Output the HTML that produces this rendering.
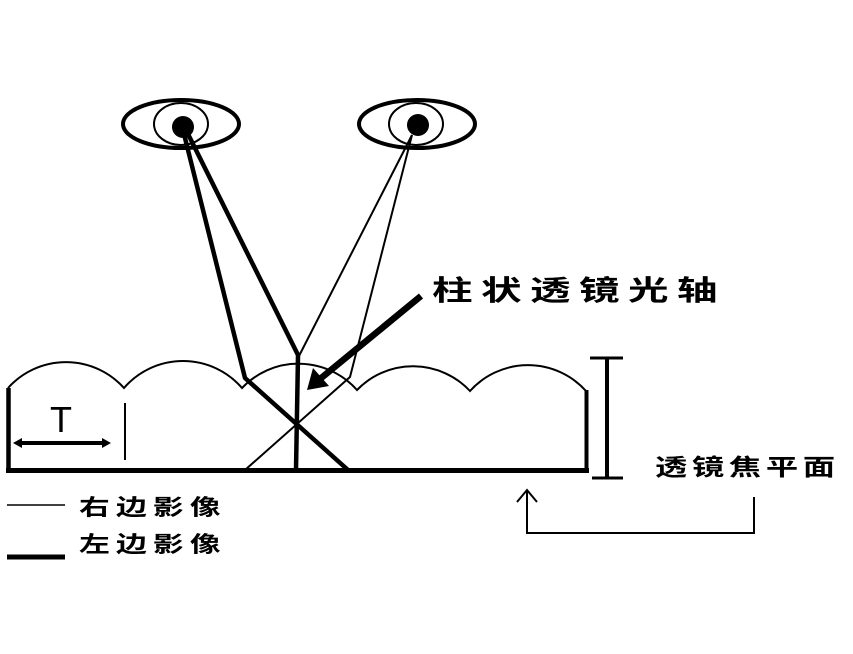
<!DOCTYPE html>
<html>
<head>
<meta charset="utf-8">
<style>
  html,body{margin:0;padding:0;background:#fff;}
  svg{display:block;}
  .cjk{font-family:"Liberation Sans","Noto Sans CJK SC","WenQuanYi Zen Hei",sans-serif;fill:#000;}
</style>
</head>
<body>
<svg width="853" height="654" viewBox="0 0 853 654" xmlns="http://www.w3.org/2000/svg">
  <rect width="853" height="654" fill="#fff"/>

  <!-- Eyes -->
  <ellipse cx="181" cy="124" rx="58" ry="24" fill="none" stroke="#000" stroke-width="4"/>
  <ellipse cx="181" cy="124" rx="27" ry="21" fill="none" stroke="#000" stroke-width="2"/>
  <ellipse cx="417" cy="124" rx="58" ry="24" fill="none" stroke="#000" stroke-width="4"/>
  <ellipse cx="416" cy="124" rx="27" ry="21" fill="none" stroke="#000" stroke-width="2"/>

  <!-- Left eye rays (thick) -->
  <g stroke="#000" stroke-width="4.5" fill="none" stroke-linecap="round" stroke-linejoin="round">
    <polyline points="183,130 245,378 348,470"/>
    <polyline points="186,130 298,355 296,470"/>
  </g>
  <!-- Right eye rays (thin) -->
  <g stroke="#000" stroke-width="2" fill="none" stroke-linejoin="round">
    <polyline points="412,135 299,356"/>
    <polyline points="412,135 350,377 245,470"/>
  </g>

  <!-- Pupils -->
  <circle cx="183" cy="127" r="11" fill="#000"/>
  <circle cx="418" cy="125" r="11" fill="#000"/>

  <!-- Lens arcs -->
  <path d="M8,388 A78,78 0 0 1 124,388 A78,78 0 0 1 242,388 A78,78 0 0 1 357,390 A78,78 0 0 1 470,391 A78,78 0 0 1 586,391"
        fill="none" stroke="#000" stroke-width="2"/>

  <!-- Lens body walls and base -->
  <line x1="8.5" y1="388" x2="8.5" y2="473" stroke="#000" stroke-width="4.5"/>
  <line x1="586.5" y1="390" x2="586.5" y2="473" stroke="#000" stroke-width="4"/>
  <line x1="6" y1="470.5" x2="589" y2="470.5" stroke="#000" stroke-width="5"/>

  <!-- T dimension -->
  <text x="61" y="432" text-anchor="middle" font-family="Liberation Sans, sans-serif" font-size="36" fill="#000">T</text>
  <line x1="20" y1="443" x2="104" y2="443" stroke="#000" stroke-width="4"/>
  <polygon points="13,443 22,438 22,448" fill="#000"/>
  <polygon points="111,443 102,438 102,448" fill="#000"/>
  <line x1="125" y1="403" x2="125" y2="460" stroke="#000" stroke-width="2"/>

  <!-- Optical axis pointer -->
  <line x1="421" y1="296" x2="320" y2="379" stroke="#000" stroke-width="6.5"/>
  <polygon points="307,390 313,368 329,386" fill="#000"/>

  <!-- Optical axis label -->
  <g transform="translate(432,0) scale(1.45,1)" class="cjk" font-size="28" font-weight="700">
    <text x="0" y="300">柱</text>
    <text x="33.8" y="300">状</text>
    <text x="67.6" y="300">透</text>
    <text x="101.4" y="300">镜</text>
    <text x="135.2" y="300">光</text>
    <text x="169" y="300">轴</text>
  </g>

  <!-- Focal plane I-beam -->
  <line x1="607" y1="358" x2="607" y2="478" stroke="#000" stroke-width="4"/>
  <line x1="590" y1="358" x2="623" y2="358" stroke="#000" stroke-width="3"/>
  <line x1="592" y1="478" x2="623" y2="478" stroke="#000" stroke-width="3"/>

  <!-- Focal plane label -->
  <g transform="translate(655,0) scale(1.4,1)" class="cjk" font-size="23" font-weight="700">
    <text x="0" y="475">透</text>
    <text x="26.4" y="475">镜</text>
    <text x="52.8" y="475">焦</text>
    <text x="79.2" y="475">平</text>
    <text x="105.6" y="475">面</text>
  </g>

  <!-- Bottom bracket arrow -->
  <g stroke="#000" stroke-width="2" fill="none">
    <polyline points="517,502 527,490 537,502"/>
    <polyline points="527,490 527,533 754,533 754,497"/>
  </g>

  <!-- Legend -->
  <line x1="7" y1="505" x2="65" y2="505" stroke="#000" stroke-width="1.5"/>
  <line x1="7" y1="557" x2="65" y2="557" stroke="#000" stroke-width="5"/>
  <g transform="translate(79,0) scale(1.4,1)" class="cjk" font-size="22" font-weight="700">
    <text x="0" y="515">右</text>
    <text x="26.4" y="515">边</text>
    <text x="52.8" y="515">影</text>
    <text x="79.2" y="515">像</text>
    <text x="0" y="552">左</text>
    <text x="26.4" y="552">边</text>
    <text x="52.8" y="552">影</text>
    <text x="79.2" y="552">像</text>
  </g>
</svg>
</body>
</html>
